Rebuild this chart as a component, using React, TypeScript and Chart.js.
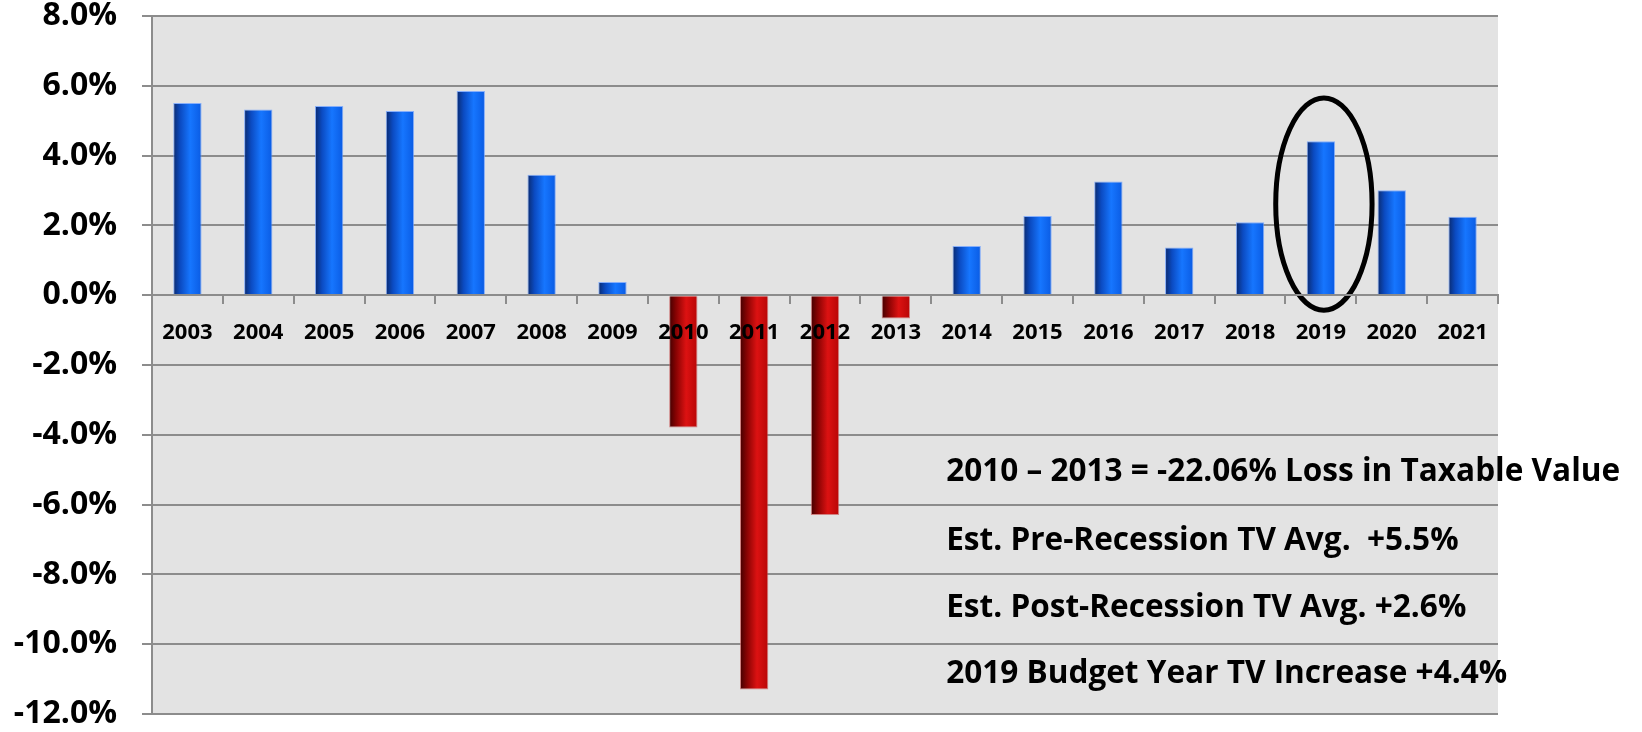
import React, { useEffect, useRef } from "react";
import { Chart, registerables } from "chart.js";

Chart.register(...registerables);

// ---- data ----
const years = [
  "2003", "2004", "2005", "2006", "2007", "2008", "2009", "2010", "2011", "2012",
  "2013", "2014", "2015", "2016", "2017", "2018", "2019", "2020", "2021",
];
const tvChange = [
  5.51, 5.32, 5.42, 5.28, 5.85, 3.45, 0.38, -3.79, -11.3, -6.3,
  -0.67, 1.41, 2.27, 3.26, 1.37, 2.09, 4.41, 3.01, 2.25,
];
const yMin = -12;
const yMax = 8;
const yStep = 2;
const notes = [
  "2010 – 2013 = -22.06% Loss in Taxable Value",
  "Est. Pre-Recession TV Avg.  +5.5%",
  "Est. Post-Recession TV Avg. +2.6%",
  "2019 Budget Year TV Increase +4.4%",
];
const noteValues = [-5.05, -7.05, -8.95, -10.85];
const noteStartIndex = 10.71;
const highlightIndex = 16;
const highlightTop = 5.65;
const highlightBottom = -0.43;

// ---- styles ----
const GRID = "#8c8c8c";
const PLOT_BG = "#e3e3e3";
const BAR_FRACTION = 0.4;
const FONT = '"Open Sans", "DejaVu Sans", sans-serif';
const NOTE_WIDTH = 674;

function barFill(ctx: any) {
  const i = ctx.dataIndex;
  const v = tvChange[i] ?? 0;
  const neg = v < 0;
  const solid = neg ? "#c00808" : "#0a62f0";
  const chart = ctx.chart;
  const xs = chart && chart.scales && chart.scales.x;
  if (!xs || typeof i !== "number") return solid;
  const cx = xs.getPixelForValue(i);
  const w = ((xs.right - xs.left) / years.length) * BAR_FRACTION;
  if (!isFinite(cx) || !(w > 0)) return solid;
  const g = chart.ctx.createLinearGradient(cx - w / 2, 0, cx + w / 2, 0);
  if (neg) {
    g.addColorStop(0, "#420000");
    g.addColorStop(0.25, "#8a0303");
    g.addColorStop(0.6, "#dc1212");
    g.addColorStop(1, "#b80606");
  } else {
    g.addColorStop(0, "#0a2a6e");
    g.addColorStop(0.25, "#0b4bc2");
    g.addColorStop(0.6, "#1676ff");
    g.addColorStop(1, "#0a5be3");
  }
  return g;
}

const bgPlugin = {
  id: "plotBg",
  beforeDraw(chart: any) {
    const { ctx, chartArea } = chart;
    ctx.save();
    ctx.fillStyle = PLOT_BG;
    ctx.fillRect(chartArea.left, chartArea.top, chartArea.right - chartArea.left, chartArea.bottom - chartArea.top);
    ctx.restore();
  },
};

const notesPlugin = {
  id: "notes",
  afterDatasetsDraw(chart: any) {
    const { ctx } = chart;
    const xs = chart.scales.x;
    const ys = chart.scales.y;
    const cx = xs.getPixelForValue(highlightIndex);
    const cat = (xs.right - xs.left) / years.length;
    const yTop = ys.getPixelForValue(highlightTop);
    const yBot = ys.getPixelForValue(highlightBottom);
    ctx.save();
    ctx.beginPath();
    ctx.ellipse(cx + 3, (yTop + yBot) / 2, cat * 0.68, (yBot - yTop) / 2, 0, 0, Math.PI * 2);
    ctx.lineWidth = 5;
    ctx.strokeStyle = "#000";
    ctx.stroke();
    ctx.restore();

    ctx.save();
    ctx.font = `bold 32px ${FONT}`;
    ctx.fillStyle = "#000";
    ctx.textBaseline = "middle";
    ctx.textAlign = "left";
    const w1 = ctx.measureText(notes[0]).width;
    const sx = NOTE_WIDTH / w1;
    const x0 = xs.getPixelForValue(noteStartIndex);
    notes.forEach((t, k) => {
      const y = ys.getPixelForValue(noteValues[k]);
      ctx.save();
      ctx.translate(x0, y);
      ctx.scale(sx, 1);
      ctx.fillText(t, 0, 0);
      ctx.restore();
    });
    ctx.restore();
  },
};

export default function App() {
  const ref = useRef<HTMLCanvasElement | null>(null);

  useEffect(() => {
    if (!ref.current) return;
    const chart = new Chart(ref.current, {
      type: "bar",
      data: {
        labels: years,
        datasets: [
          {
            data: tvChange,
            backgroundColor: barFill as any,
            borderColor: tvChange.map((v) => (v < 0 ? "rgba(200,90,90,0.7)" : "rgba(110,160,255,0.8)")),
            borderWidth: 1,
            barPercentage: BAR_FRACTION,
            categoryPercentage: 1,
          },
        ],
      },
      options: {
        animation: false,
        responsive: true,
        maintainAspectRatio: false,
        events: [],
        layout: { padding: { left: 0, top: 16, right: 144, bottom: 18 } },
        plugins: { legend: { display: false }, tooltip: { enabled: false } },
        scales: {
          x: {
            type: "category",
            position: { y: 0 } as any,
            offset: true,
            grid: {
              offset: true,
              drawOnChartArea: false,
              drawTicks: true,
              tickLength: 8,
              color: GRID,
              lineWidth: 2,
              z: 1,
            },
            border: { display: true, color: GRID, width: 2, z: 1 },
            ticks: {
              autoSkip: false,
              maxRotation: 0,
              color: "#000",
              padding: 16,
              z: 1,
              font: { family: FONT, size: 22, weight: "bold", lineHeight: 1.2 },
            },
          },
          y: {
            min: yMin,
            max: yMax,
            afterFit(scale: any) {
              scale.width = 152;
              scale.paddingTop = 0;
              scale.paddingBottom = 0;
            },
            ticks: {
              stepSize: yStep,
              color: "#000",
              padding: 25,
              font: { family: FONT, size: 32, weight: "bold", lineHeight: 1 },
              callback: (v: any) => Number(v).toFixed(1) + "%",
            },
            grid: { color: GRID, lineWidth: 2, tickLength: 10, drawTicks: true },
            border: { display: true, color: GRID, width: 2 },
          },
        },
      },
      plugins: [bgPlugin, notesPlugin],
    });
    return () => chart.destroy();
  }, []);

  return (
    <div style={{ position: "absolute", left: 0, top: 0, width: 1642, height: 732, background: "#fff" }}>
      <canvas ref={ref} />
    </div>
  );
}
